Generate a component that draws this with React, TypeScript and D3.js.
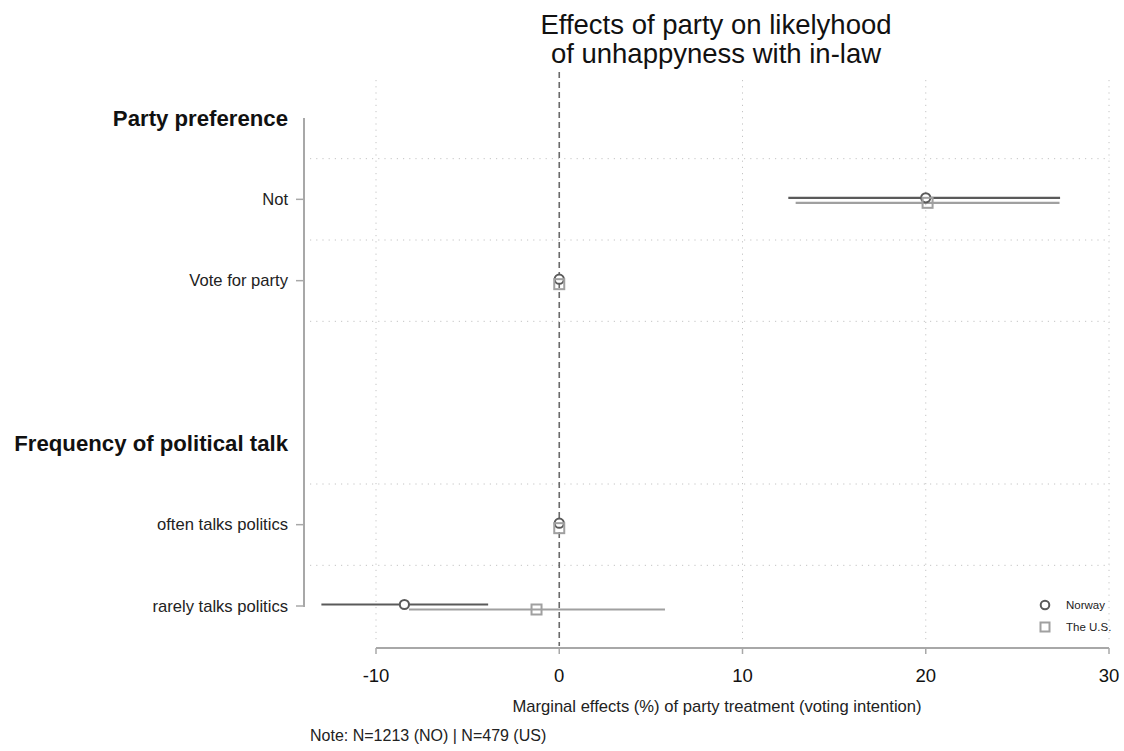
import React from "react";
import * as d3 from "d3";

const rowKeys = ["h1", "Not", "Vote for party", "blank", "h2", "often talks politics", "rarely talks politics"];
const headers = [
  { key: "h1", label: "Party preference" },
  { key: "h2", label: "Frequency of political talk" },
];
const categories = ["Not", "Vote for party", "often talks politics", "rarely talks politics"];
const gridRowPairs = [["h1", "Not"], ["Not", "Vote for party"], ["Vote for party", "blank"], ["h2", "often talks politics"], ["often talks politics", "rarely talks politics"]];

const norwayEst = [20.0, 0, 0, -8.45];
const norwayLo = [12.5, 0, 0, -12.98];
const norwayHi = [27.33, 0, 0, -3.88];
const usEst = [20.1, 0, 0, -1.24];
const usLo = [12.9, 0, 0, -8.2];
const usHi = [27.3, 0, 0, 5.77];

const xTicks = [-10, 0, 10, 20, 30];
const seriesNames = ["Norway", "The U.S."];

const W = 1124;
const H = 751;
const darkCol = "#5a5a5a";
const lightCol = "#a0a0a0";
const axisCol = "#a8a8a8";
const font = "'Liberation Sans', Arial, Helvetica, sans-serif";

export default function App() {
  const x = d3.scaleLinear().domain([-10, 30]).range([376, 1109]);
  const y = d3.scalePoint<string>().domain(rowKeys).range([118, 606]);
  const yv = (k: string) => y(k) as number;

  const series = [
    { name: seriesNames[0], est: norwayEst, lo: norwayLo, hi: norwayHi, col: darkCol, dy: -1.5, shape: "circle" },
    { name: seriesNames[1], est: usEst, lo: usLo, hi: usHi, col: lightCol, dy: 3.5, shape: "square" },
  ];

  return (
    <svg width={W} height={H} style={{ position: "absolute", left: 0, top: 0, background: "#fff", fontFamily: font }}>
      <rect x={0} y={0} width={W} height={H} fill="#fff" />
      {/* title */}
      <text x={716} y={34} textAnchor="middle" fontSize={27.5} fill="#111">Effects of party on likelyhood</text>
      <text x={716} y={63} textAnchor="middle" fontSize={27.5} fill="#111">of unhappyness with in-law</text>

      {/* vertical grid */}
      {xTicks.filter((t) => t !== 0).map((t) => (
        <line key={"vg" + t} x1={x(t)} x2={x(t)} y1={80} y2={644} stroke="#c4c4c4" strokeWidth={1} strokeDasharray="1.2,5" />
      ))}
      {/* horizontal grid */}
      {gridRowPairs.map(([a, b]) => {
        const gy = (yv(a) + yv(b)) / 2;
        return <line key={"hg" + a} x1={310} x2={1110} y1={gy} y2={gy} stroke="#c4c4c4" strokeWidth={1} strokeDasharray="1.2,5" />;
      })}
      {/* zero line */}
      <line x1={x(0)} x2={x(0)} y1={72} y2={646} stroke="#6a6a6a" strokeWidth={1.6} strokeDasharray="6,4" />

      {/* y axis */}
      <line x1={304} x2={304} y1={118} y2={yv("rarely talks politics") + 1} stroke={axisCol} strokeWidth={2} />
      {categories.map((c) => (
        <g key={"yt" + c}>
          <line x1={296} x2={304} y1={yv(c)} y2={yv(c)} stroke={axisCol} strokeWidth={1.5} />
          <text x={288} y={yv(c)} dy="0.35em" textAnchor="end" fontSize={16.6} fill="#222">{c}</text>
        </g>
      ))}
      {headers.map((h) => (
        <text key={h.key} x={288} y={yv(h.key)} dy="0.35em" textAnchor="end" fontSize={22.2} fontWeight="bold" fill="#111">{h.label}</text>
      ))}

      {/* x axis */}
      <line x1={x(-10)} x2={x(30)} y1={648} y2={648} stroke={axisCol} strokeWidth={2} />
      {xTicks.map((t) => (
        <g key={"xt" + t}>
          <line x1={x(t)} x2={x(t)} y1={648} y2={654} stroke={axisCol} strokeWidth={1.5} />
          <text x={x(t)} y={682} textAnchor="middle" fontSize={18.5} fill="#111">{t}</text>
        </g>
      ))}
      <text x={717} y={712} textAnchor="middle" fontSize={16.6} fill="#222">Marginal effects (%) of party treatment (voting intention)</text>
      <text x={310} y={741} fontSize={16} fill="#222">Note: N=1213 (NO) | N=479 (US)</text>

      {/* CI lines */}
      {series.map((s) =>
        categories.map((c, i) => (
          <line key={s.name + "ci" + c} x1={x(s.lo[i])} x2={x(s.hi[i])} y1={yv(c) + s.dy} y2={yv(c) + s.dy} stroke={s.col} strokeWidth={2.2} />
        ))
      )}
      {/* markers */}
      {series.map((s) =>
        categories.map((c, i) =>
          s.shape === "circle" ? (
            <circle key={s.name + "m" + c} cx={x(s.est[i])} cy={yv(c) + s.dy} r={4.6} fill="#fff" stroke={s.col} strokeWidth={2} />
          ) : (
            <rect key={s.name + "m" + c} x={x(s.est[i]) - 5} y={yv(c) + s.dy - 5} width={10} height={10} fill="none" stroke={s.col} strokeWidth={2} />
          )
        )
      )}

      {/* legend */}
      <circle cx={1045} cy={605} r={4.3} fill="#fff" stroke={darkCol} strokeWidth={2} />
      <text x={1066} y={605} dy="0.35em" fontSize={11.5} fill="#222">{seriesNames[0]}</text>
      <rect x={1040.5} y={622.5} width={9} height={9} fill="none" stroke={lightCol} strokeWidth={2} />
      <text x={1066} y={627} dy="0.35em" fontSize={11.5} fill="#222">{seriesNames[1]}</text>
    </svg>
  );
}
